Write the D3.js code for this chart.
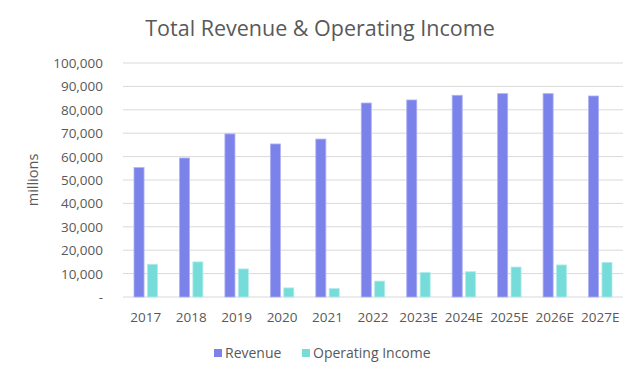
<!DOCTYPE html>
<html>
<head>
<meta charset="utf-8">
<script src="https://cdn.jsdelivr.net/npm/d3@7"></script>
<style>
  body { margin: 0; background: #fff; }
  text { font-family: "Open Sans", "Noto Sans", sans-serif; fill: #595959; }
</style>
</head>
<body>
<div id="chart"></div>
<script>
const years = ["2017", "2018", "2019", "2020", "2021", "2022", "2023E", "2024E", "2025E", "2026E", "2027E"];
const revenue = [55300, 59400, 69700, 65400, 67500, 82900, 84200, 86200, 86900, 86900, 85900];
const operatingIncome = [14000, 15000, 12000, 3900, 3600, 6800, 10500, 10800, 12800, 13700, 14800];
const seriesNames = ["Revenue", "Operating Income"];
const yTicks = [0, 10000, 20000, 30000, 40000, 50000, 60000, 70000, 80000, 90000, 100000];

const width = 640, height = 377;
const colors = ["#7B83EB", "#76DCD9"];

const svg = d3.select("#chart")
  .append("svg")
  .attr("width", width)
  .attr("height", height);

const x = d3.scaleBand().domain(years).range([123, 623]).paddingInner(0).paddingOuter(0);
const inner = d3.scaleBand().domain(seriesNames).range([11, x.bandwidth() - 11]).paddingInner(0.25);
const y = d3.scaleLinear().domain([0, 100000]).range([297, 63]);

// title
svg.append("text")
  .attr("x", 320).attr("y", 36)
  .attr("text-anchor", "middle")
  .style("font-size", "21.5px")
  .text("Total Revenue & Operating Income");

// gridlines
svg.append("g")
  .selectAll("line")
  .data(yTicks)
  .enter()
  .append("line")
  .attr("x1", 123).attr("x2", 623)
  .attr("y1", d => y(d)).attr("y2", d => y(d))
  .style("stroke", "#d9d9d9")
  .style("stroke-width", 1);

// y tick labels
const fmt = d3.format(",");
svg.append("g")
  .selectAll("text")
  .data(yTicks)
  .enter()
  .append("text")
  .attr("x", 103)
  .attr("y", d => y(d) + 5)
  .attr("text-anchor", "end")
  .style("font-size", "13.5px")
  .text(d => d === 0 ? "-" : fmt(d));

// y axis title
svg.append("text")
  .attr("transform", "translate(38,180) rotate(-90)")
  .attr("text-anchor", "middle")
  .style("font-size", "14.5px")
  .text("millions");

// bars
const data = years.map((yr, i) => ({ year: yr, values: [revenue[i], operatingIncome[i]] }));
const groups = svg.append("g")
  .selectAll("g")
  .data(data)
  .enter()
  .append("g")
  .attr("transform", d => `translate(${x(d.year)},0)`);

groups.selectAll("rect")
  .data(d => d.values.map((v, j) => ({ name: seriesNames[j], value: v, j: j })))
  .enter()
  .append("rect")
  .attr("x", d => inner(d.name))
  .attr("width", inner.bandwidth())
  .attr("y", d => y(d.value))
  .attr("height", d => y(0) - y(d.value))
  .style("fill", d => colors[d.j])
  .style("stroke", d => d.j === 0 ? "#aeb3f3" : "#b2ecea")
  .style("stroke-width", 0.8);

// x labels
svg.append("g")
  .selectAll("text")
  .data(years)
  .enter()
  .append("text")
  .attr("x", d => x(d) + x.bandwidth() / 2)
  .attr("y", 322)
  .attr("text-anchor", "middle")
  .style("font-size", "13.5px")
  .text(d => d);

// legend
const legendX = [214, 302];
const legend = svg.append("g")
  .selectAll("g")
  .data(seriesNames)
  .enter()
  .append("g")
  .attr("transform", (d, i) => `translate(${legendX[i]},349)`);
legend.append("rect")
  .attr("width", 8).attr("height", 8)
  .style("fill", (d, i) => colors[i]);
legend.append("text")
  .attr("x", 11).attr("y", 9)
  .style("font-size", "14px")
  .text(d => d);
</script>
</body>
</html>
